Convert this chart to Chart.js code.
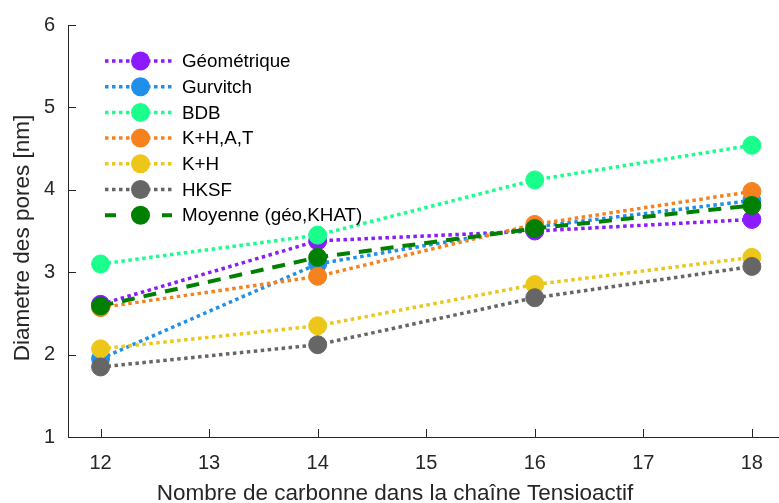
<!DOCTYPE html>
<html><head><meta charset="utf-8">
<script src="https://cdn.jsdelivr.net/npm/chart.js@4/dist/chart.umd.min.js"></script>
<style>html,body{margin:0;padding:0;background:#fff}#wrap{width:779px;height:503px}</style>
</head><body><div id="wrap"><canvas id="c" width="779" height="503"></canvas></div>
<script>
const categories = [12, 14, 16, 18];
const seriesNames = ["Géométrique", "Gurvitch", "BDB", "K+H,A,T", "K+H", "HKSF", "Moyenne (géo,KHAT)"];
const geometrique = [2.61, 3.38, 3.50, 3.64];
const gurvitch   = [1.95, 3.10, 3.55, 3.87];
const bdb        = [3.10, 3.45, 4.12, 4.54];
const khat       = [2.57, 2.95, 3.58, 3.98];
const kh         = [2.07, 2.35, 2.85, 3.18];
const hksf       = [1.85, 2.12, 2.69, 3.07];
const moyenne    = [2.59, 3.18, 3.53, 3.81];
const xTicks = [12, 13, 14, 15, 16, 17, 18];
const yTicks = [1, 2, 3, 4, 5, 6];
const xTitle = "Nombre de carbonne dans la chaîne Tensioactif";
const yTitle = "Diametre des pores [nm]";

const seriesValues = [geometrique, gurvitch, bdb, khat, kh, hksf, moyenne];
const colors = ["#8C1AFF", "#1F8FEA", "#1AFF8C", "#F5821F", "#EDC61A", "#666666", "#008000"];
const FONT = "'Liberation Sans', Arial, Helvetica, sans-serif";
const AXIS = "#262626";

const datasets = seriesNames.map((name, i) => {
  const dashed = i === 6;
  return {
    label: name,
    data: categories.map((x, j) => ({x: x, y: seriesValues[i][j]})),
    borderColor: colors[i],
    backgroundColor: colors[i],
    pointBackgroundColor: colors[i],
    pointBorderColor: colors[i],
    pointBorderWidth: 1,
    pointRadius: 9,
    borderWidth: dashed ? 4 : 3.5,
    borderDash: dashed ? [13, 9] : [3.5, 3.5],
    borderCapStyle: 'butt',
    fill: false,
    tension: 0,
    clip: false,
    order: seriesNames.length - i
  };
});

const inwardTicks = {
  id: 'inwardTicks',
  afterDraw(chart) {
    const ctx = chart.ctx, a = chart.chartArea;
    const xs = chart.scales.x, ys = chart.scales.y;
    ctx.save();
    ctx.strokeStyle = AXIS; ctx.lineWidth = 1;
    ctx.beginPath();
    xTicks.forEach(v => { const p = Math.round(xs.getPixelForValue(v)) + 0.5; ctx.moveTo(p, a.bottom); ctx.lineTo(p, a.bottom - 8); });
    yTicks.forEach(v => { const p = Math.round(ys.getPixelForValue(v)) + 0.5; ctx.moveTo(a.left, p); ctx.lineTo(a.left + 8, p); });
    ctx.stroke();
    // axis titles
    ctx.fillStyle = AXIS;
    ctx.font = "22.5px " + FONT;
    ctx.textAlign = "center";
    ctx.textBaseline = "middle";
    ctx.fillText(xTitle, 395, 494);
    ctx.translate(23, 238);
    ctx.rotate(-Math.PI / 2);
    ctx.fillText(yTitle, 0, 0);
    ctx.restore();
  }
};

const customLegend = {
  id: 'customLegend',
  afterDraw(chart) {
    const ctx = chart.ctx;
    ctx.save();
    chart.data.datasets.forEach((ds, i) => {
      const y = 61 + i * 25.7;
      ctx.strokeStyle = ds.borderColor;
      ctx.lineWidth = ds.borderWidth;
      if (i === 6) ctx.setLineDash([11, 46]); else ctx.setLineDash([3.5, 3.5]);
      ctx.beginPath(); ctx.moveTo(105, y); ctx.lineTo(172, y); ctx.stroke();
      ctx.setLineDash([]);
      ctx.fillStyle = ds.pointBackgroundColor;
      ctx.beginPath(); ctx.arc(140.5, y, 9.5, 0, Math.PI * 2); ctx.fill();
      ctx.fillStyle = "#000";
      ctx.font = "18.8px " + FONT;
      ctx.textBaseline = "middle";
      ctx.fillText(ds.label, 182, y + 1);
    });
    ctx.restore();
  }
};

new Chart(document.getElementById('c'), {
  type: 'line',
  data: { datasets },
  options: {
    responsive: false,
    animation: false,
    devicePixelRatio: 1,
    layout: { autoPadding: false, padding: { top: 20, right: 0, left: 0, bottom: 0 } },
    plugins: { legend: { display: false }, tooltip: { enabled: false } },
    scales: {
      x: {
        type: 'linear', min: 11.7, max: 18.25,
        afterBuildTicks: s => { s.ticks = xTicks.map(v => ({value: v})); },
        afterFit: s => { s.height = 66; s.paddingRight = 0; s.paddingLeft = 0; },
        grid: { display: false, drawTicks: false },
        border: { display: true, color: AXIS, width: 1 },
        ticks: { color: AXIS, font: { family: FONT, size: 20 }, padding: 14, autoSkip: false, maxRotation: 0 },
        title: { display: false }
      },
      y: {
        type: 'linear', min: 1, max: 6,
        afterBuildTicks: s => { s.ticks = yTicks.map(v => ({value: v})); },
        afterFit: s => { s.width = 68; },
        grid: { display: false, drawTicks: false },
        border: { display: true, color: AXIS, width: 1 },
        ticks: { color: AXIS, font: { family: FONT, size: 20 }, padding: 13 },
        title: { display: false }
      }
    }
  },
  plugins: [inwardTicks, customLegend]
});
</script>
</body></html>
